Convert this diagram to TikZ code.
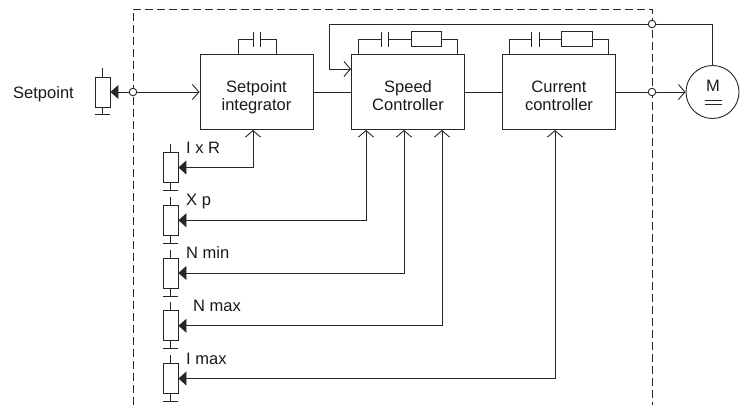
\documentclass[tikz,border=0pt]{standalone}
\usepackage{fontspec}
\setmainfont{Liberation Sans}
\usetikzlibrary{arrows.meta}
\begin{document}
\begin{tikzpicture}[x=1pt,y=-1pt,
  wire/.style={draw=black!85, line width=0.9pt},
  blockbox/.style={draw=black!85, line width=0.9pt, minimum width=113pt, minimum height=75pt, inner sep=0pt},
  blocktext/.style={font=\fontsize{16.5}{18}\selectfont, align=center, inner sep=0pt, text=black!90},
  lbl/.style={font=\fontsize{16.5}{18}\selectfont, inner sep=0pt, text=black!90},
  potbox/.style={draw=black!85, line width=0.9pt, minimum width=15pt, minimum height=30pt, inner sep=0pt},
  junc/.style={circle, draw=black!85, fill=white, line width=0.9pt, minimum size=7.5pt, inner sep=0pt},
  motor/.style={circle, draw=black!85, line width=0.9pt, minimum size=53pt, inner sep=0pt},
  inarrow/.style={-{Straight Barb[length=6.5pt,width=15pt]}},
  wiperarrow/.style={-{Triangle[length=8pt,width=14pt]}},
  bothtips/.style={{Straight Barb[length=6.5pt,width=15pt]}-{Triangle[length=8pt,width=14pt]}},
  frame/.style={draw=black!85, line width=0.9pt, dash pattern=on 8pt off 4pt},
]
\useasboundingbox (0,0) rectangle (740,405);
% dashed frame
\draw[frame] (133,405) -- (133,9) -- (652,9) -- (652,405);

% blocks
\node[blockbox] (si) at (256.5,92) {};
\node[blockbox] (sc) at (408,92) {};
\node[blockbox] (cc) at (559,92) {};
\node[blocktext] (sit) at (256.5,98) {\strut Setpoint\\\strut integrator};
\node[blocktext] (sct) at (408,97.5) {\strut Speed\\\strut Controller};
\node[blocktext] (cct) at (559,97.5) {\strut Current\\\strut controller};

% RC elements
\draw[wire] (238,54.5) |- (253.3,39) (260.7,39) -| (276,54.5);
\draw[wire] (253.3,31.7) -- (253.3,46.7) (260.7,31.7) -- (260.7,46.7);

\draw[wire] (358,54.5) |- (381.7,39) (388.3,39) -- (411.7,39) (441.7,39) -| (457,54.5);
\draw[wire] (381.7,31.7) -- (381.7,46.7) (388.3,31.7) -- (388.3,46.7);
\draw[wire] (411.7,31.7) rectangle (441.7,46.7);

\draw[wire] (509,54.5) |- (531.7,39) (539,39) -- (561.7,39) (592.7,39) -| (608,54.5);
\draw[wire] (531.7,31.7) -- (531.7,46.7) (539,31.7) -- (539,46.7);
\draw[wire] (561.7,31.7) rectangle (592.7,46.7);

% motor
\node[motor] (mot) at (712.5,92) {};
\node[lbl, anchor=base] (mt) at (713,91.5) {M};
\draw[wire] (705,100) -- (722,100) (705,104) -- (722,104);

% junctions
\node[junc] (c1) at (133,92) {};
\node[junc] (c2) at (652,24) {};
\node[junc] (c3) at (652,92) {};

% main signal path
\draw[wire, inarrow] (c1) -- (si.west);
\draw[wire] (si.east) -- (sc.west);
\draw[wire] (sc.east) -- (cc.west);
\draw[wire] (cc.east) -- (c3);
\draw[wire, inarrow] (c3) -- (mot.west);
\draw[wire] (mot.north) |- (c2);
\coordinate (fbc) at (329,69);
\draw[wire, inarrow] (c2) -| (fbc) -- (fbc -| sc.west);

% setpoint potentiometer
\node[potbox] (ps) at (102.5,92) {};
\draw[wire] (ps.north) -- ++(0,-9);
\draw[wire] (ps.south) -- ++(0,6.5) coordinate (tkps);
\draw[wire] (tkps -| ps.west) -- (tkps -| ps.east);
\draw[wire, wiperarrow] (c1) -- (ps.east);
\node[lbl, anchor=base] (spl) at (43.5,98) {Setpoint};

% parameter potentiometers
\foreach \n/\yc/\tg/\tx/\lab/\lx in {p1/167.5/si/253/I x R/186, p2/220.25/sc/366/X p/186, p3/273/sc/404/N min/186, p4/325.75/sc/442/N max/193, p5/378.5/cc/555/I max/186}
{
  \node[potbox] (\n) at (170.5,\yc) {};
  \draw[wire] (\n.north) -- ++(0,-8);
  \draw[wire] (\n.south) -- ++(0,7.5) coordinate (tk\n);
  \draw[wire] (tk\n -| \n.west) -- (tk\n -| \n.east);
  \coordinate (g\n) at (\tx,\yc);
  \draw[wire, bothtips] (g\n |- \tg.south) -- (g\n) -- (\n.east);
  \node[lbl, anchor=base west] (l\n) at (\lx,\yc-14.5) {\lab};
}
\end{tikzpicture}
\end{document}
